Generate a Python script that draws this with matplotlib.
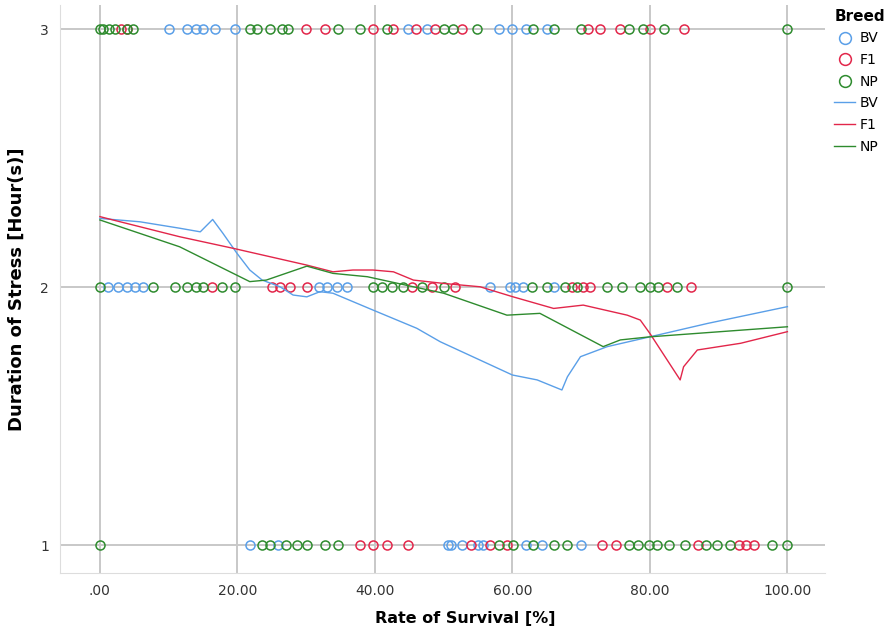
import matplotlib
matplotlib.use("Agg")
import matplotlib.pyplot as plt
from matplotlib.lines import Line2D

# colours per breed
blue = '#5a9fe8'
red = '#e2264a'
green = '#2e8b2e'

# observed points: survival rate (%) at each stress duration, per breed
bv_h3 = [10, 12.6, 14, 15, 16.7, 19.7, 44.8, 47.6, 58, 60, 62, 65]
f1_h3 = [3, 4, 30, 32.7, 39.7, 42.7, 46, 48.8, 52.7, 71, 72.8, 75.7, 80, 85]
np_h3 = [0, 0.5, 1.3, 2.2, 4, 4.8, 21.8, 22.8, 24.7, 26.5, 27.4, 34.6, 37.8, 41.8,
         50, 51.4, 54.8, 63, 66, 70, 77, 79, 82, 100]

bv_h2 = [1.2, 2.6, 3.9, 5.1, 6.3, 31.8, 33, 34.5, 36, 56.8, 59.7, 60.4, 61.6, 66]
f1_h2 = [16.3, 25, 26.2, 27.7, 30.1, 45.4, 48.3, 51.7, 68.7, 70.3, 71.3, 82.5, 86]
np_h2 = [0, 7.7, 10.9, 12.6, 14, 15, 17.7, 19.7, 39.7, 41, 42.5, 44.1, 46.9, 50,
         62.9, 65, 67.7, 69.4, 73.8, 76, 78.6, 80, 81.2, 84, 100]

bv_h1 = [21.8, 25.9, 50.7, 51, 52.7, 55, 55.7, 62, 64.3, 70]
f1_h1 = [37.8, 39.7, 41.8, 44.8, 54, 56.8, 59.2, 73.1, 75, 87, 93, 94, 95.1]
np_h1 = [0, 23.6, 24.7, 27, 28.6, 30.1, 32.7, 34.6, 58, 60.1, 63, 66, 68, 77,
         78.2, 79.8, 81.1, 82.8, 85.1, 88.1, 89.8, 91.7, 97.8, 100]

# fit lines
bv_fit_x = [0, 5.8, 11.6, 14.6, 16.4, 17.9, 19.9, 21.8, 23.6, 26.2, 28.1, 30.1, 32,
            33.9, 39.7, 46.1, 49.5, 60, 63.6, 67.2, 68, 69.9, 73.8, 80, 88.4, 100]
bv_fit_y = [2.266, 2.253, 2.228, 2.214, 2.262, 2.208, 2.132, 2.066, 2.027, 2.001, 1.969,
            1.962, 1.982, 1.976, 1.911, 1.84, 1.788, 1.659, 1.64, 1.601, 1.652, 1.73,
            1.769, 1.807, 1.859, 1.924]
f1_fit_x = [0, 1.9, 11.6, 19.4, 30.1, 33.9, 36.8, 39.7, 42.7, 45.6, 50, 55.3, 60.1,
            66, 70.3, 76.7, 78.6, 80, 84.4, 84.9, 86.9, 93.2, 100]
f1_fit_y = [2.273, 2.26, 2.195, 2.15, 2.085, 2.059, 2.066, 2.066, 2.059, 2.027, 2.014,
            2.001, 1.962, 1.917, 1.93, 1.891, 1.872, 1.82, 1.64, 1.691, 1.756, 1.782, 1.827]
np_fit_x = [0, 11.6, 21.8, 24.2, 30.1, 33.9, 38.9, 45.6, 50, 59.2, 64, 73.2, 75.7, 80, 100]
np_fit_y = [2.26, 2.156, 2.021, 2.027, 2.081, 2.053, 2.04, 2.001, 1.976, 1.891, 1.898,
            1.769, 1.795, 1.807, 1.846]

xticks = [0, 20, 40, 60, 80, 100]
xtick_labels = ['.00', '20.00', '40.00', '60.00', '80.00', '100.00']
yticks = [1, 2, 3]

fig = plt.figure(figsize=(8.96, 6.34), dpi=100)
ax = fig.add_axes([0.067, 0.096, 0.854, 0.896])

for v in xticks:
    ax.axvline(v, color='#c8c8c8', lw=1.4, zorder=0)
for v in yticks:
    ax.axhline(v, color='#c8c8c8', lw=1.4, zorder=0)

mk = dict(marker='o', ms=6.5, mfc='none', mew=1.1, ls='none')
for xs, y, c in [(bv_h3, 3, blue), (bv_h2, 2, blue), (bv_h1, 1, blue),
                 (f1_h3, 3, red), (f1_h2, 2, red), (f1_h1, 1, red),
                 (np_h3, 3, green), (np_h2, 2, green), (np_h1, 1, green)]:
    ax.plot(xs, [y] * len(xs), mec=c, **mk)

ax.plot(bv_fit_x, bv_fit_y, color=blue, lw=1.0)
ax.plot(f1_fit_x, f1_fit_y, color=red, lw=1.0)
ax.plot(np_fit_x, np_fit_y, color=green, lw=1.0)

ax.set_xlim(-5.8, 105.5)
ax.set_ylim(0.891, 3.093)
ax.set_xticks(xticks)
ax.set_xticklabels(xtick_labels)
ax.set_yticks(yticks)
ax.tick_params(length=0, labelsize=10, colors='#333333', pad=8)
for s in ['top', 'right']:
    ax.spines[s].set_visible(False)
for s in ['left', 'bottom']:
    ax.spines[s].set_color('#dddddd')
    ax.spines[s].set_linewidth(0.8)

ax.set_xlabel('Rate of Survival [%]', fontsize=11.5, fontweight='bold')
ax.xaxis.set_label_coords(0.529, -0.066)
ax.set_ylabel('Duration of Stress [Hour(s)]', fontsize=13, fontweight='bold', labelpad=10)

lmk = dict(marker='o', ms=8.5, mfc='none', mew=1.1, ls='none')
handles = [Line2D([], [], mec=blue, **lmk), Line2D([], [], mec=red, **lmk),
           Line2D([], [], mec=green, **lmk),
           Line2D([], [], color=blue, lw=1.0), Line2D([], [], color=red, lw=1.0),
           Line2D([], [], color=green, lw=1.0)]
labels = ['BV', 'F1', 'NP', 'BV', 'F1', 'NP']
leg = fig.legend(handles, labels, title='Breed', loc='upper left',
                 bbox_to_anchor=(0.925, 0.995), frameon=False, fontsize=10,
                 handlelength=1.5, handletextpad=0.3, labelspacing=0.55,
                 alignment='left', borderaxespad=0)
leg.get_title().set_fontweight('bold')
leg.get_title().set_fontsize(11)

fig.savefig('out.png', dpi=100)
